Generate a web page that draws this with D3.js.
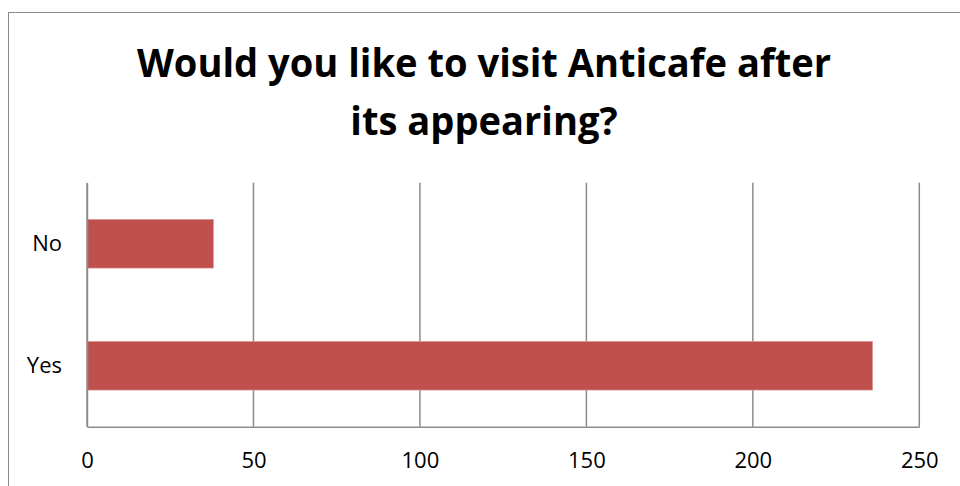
<!DOCTYPE html>
<html>
<head>
<meta charset="utf-8">
<script src="https://cdn.jsdelivr.net/npm/d3@7/dist/d3.min.js"></script>
<style>
  html, body { margin: 0; padding: 0; background: #fff; }
  svg { display: block; }
</style>
</head>
<body>
<svg id="chart" width="960" height="486"></svg>
<script>
// Survey answers
const categories = ["No", "Yes"];
const counts = [38, 236];
const xTicks = [0, 50, 100, 150, 200, 250];
const titleLines = ["Would you like to visit Anticafe after", "its appearing?"];

const W = 960, H = 486;
const font = "'Open Sans', 'Noto Sans', sans-serif";
const plot = { left: 87, right: 919.3, top: 182.7, bottom: 426.7 };

const svg = d3.select("#chart");

// Chart frame (extends past the right and bottom edges)
svg.append("rect")
  .attr("x", 8.5).attr("y", 12.5)
  .attr("width", 970).attr("height", 500)
  .attr("fill", "#fff")
  .attr("stroke", "#8c8c8c").attr("stroke-width", 1);

const x = d3.scaleLinear().domain([0, 250]).range([plot.left, plot.right]);
const y = d3.scaleBand().domain(categories).range([plot.top, plot.bottom])
  .paddingInner(0.6).paddingOuter(0.3);

// Vertical gridlines
svg.append("g")
  .selectAll("line")
  .data(xTicks)
  .join("line")
  .attr("x1", d => x(d)).attr("x2", d => x(d))
  .attr("y1", plot.top).attr("y2", plot.bottom)
  .attr("stroke", "#8c8c8c").attr("stroke-width", 1.5);

// Bars
svg.append("g")
  .selectAll("rect")
  .data(categories.map((c, i) => ({ c, v: counts[i] })))
  .join("rect")
  .attr("x", x(0))
  .attr("y", d => y(d.c))
  .attr("width", d => x(d.v) - x(0))
  .attr("height", y.bandwidth())
  .attr("fill", "#C0504D")
  .attr("stroke", "#e3a3a1").attr("stroke-width", 0.6);

// Axes
const xAxis = d3.axisBottom(x).tickValues(xTicks).tickSize(0).tickPadding(26);
const gx = svg.append("g").attr("transform", `translate(0,${plot.bottom})`).call(xAxis);
gx.select(".domain").attr("stroke", "#8c8c8c").attr("stroke-width", 1.5);
gx.selectAll("text").attr("font-family", font).attr("font-size", 22).attr("fill", "#000");

const yAxis = d3.axisLeft(y).tickSize(0).tickPadding(25);
const gy = svg.append("g").attr("transform", `translate(${plot.left},0)`).call(yAxis);
gy.select(".domain").attr("stroke", "#8c8c8c").attr("stroke-width", 1.5);
gy.selectAll("text").attr("font-family", font).attr("font-size", 22).attr("fill", "#000");

// Title
const title = svg.append("text")
  .attr("text-anchor", "middle")
  .attr("font-family", font)
  .attr("font-weight", "bold")
  .attr("fill", "#000");
const baselines = [77, 135];
title.selectAll("tspan")
  .data(titleLines)
  .join("tspan")
  .attr("x", 484)
  .attr("y", (d, i) => baselines[i])
  .text(d => d);
title.attr("font-size", 40);
const w0 = title.select("tspan").node().getComputedTextLength();
const target = 694;
if (w0 > target) {
  title.selectAll("tspan").attr("textLength", function() {
    return this.getComputedTextLength() * target / w0;
  }).attr("lengthAdjust", "spacingAndGlyphs");
}
</script>
</body>
</html>
